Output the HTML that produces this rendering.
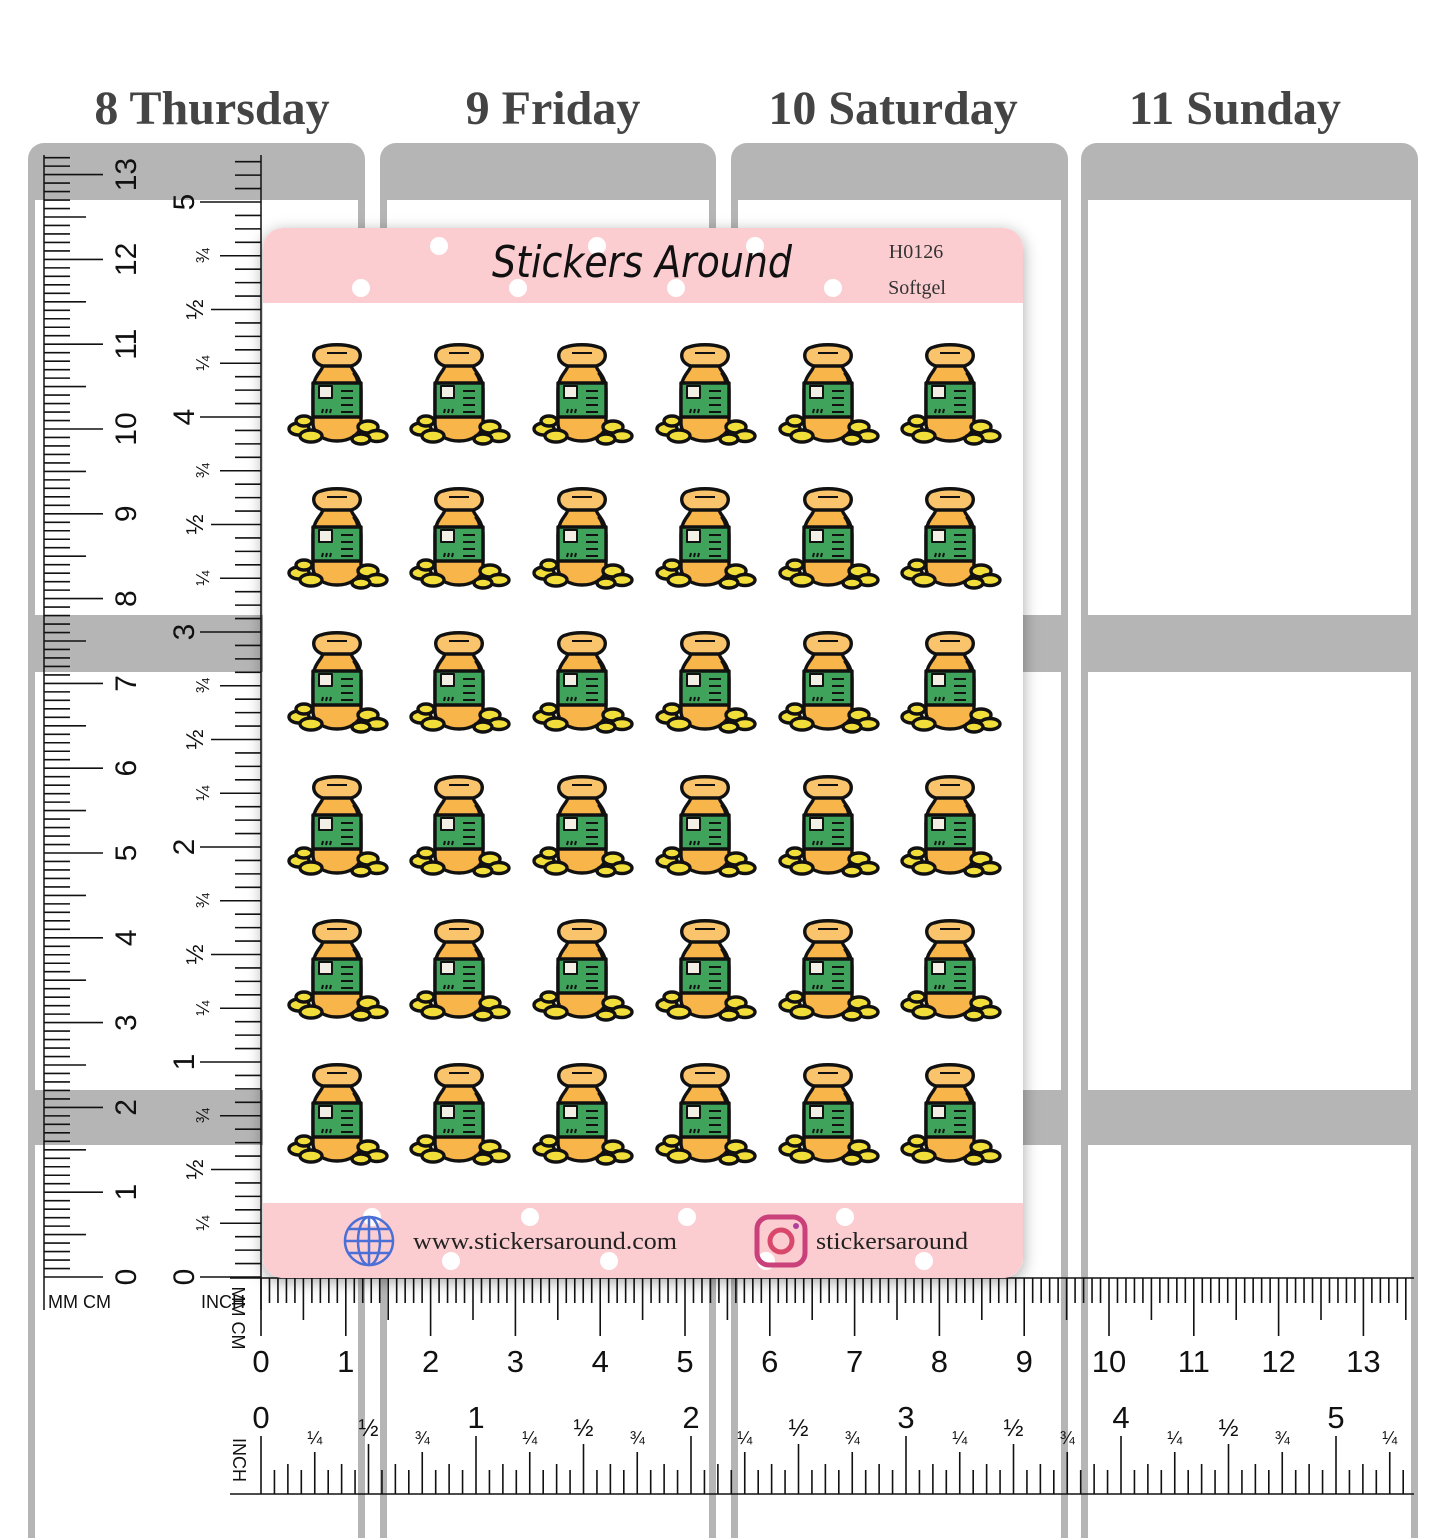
<!DOCTYPE html>
<html><head><meta charset="utf-8"><style>
html,body{margin:0;padding:0;background:#fff;}
body{width:1445px;height:1538px;position:relative;overflow:hidden;font-family:"Liberation Sans",sans-serif;}
svg{position:absolute;left:0;top:0;}
</style></head><body>
<svg id="s" width="1445" height="1538" viewBox="0 0 1445 1538" xmlns="http://www.w3.org/2000/svg">
<defs>
<filter id="sh" x="-10%" y="-10%" width="120%" height="120%"><feDropShadow dx="0" dy="4" stdDeviation="8" flood-color="#000" flood-opacity="0.35"/></filter>
<g id="ic" stroke="#111" stroke-width="3.4" stroke-linejoin="round">
<path d="M36 22 C36 28 26 32 26 48 L26 80 C26 104 74 104 74 80 L74 48 C74 32 64 28 64 22 Z" fill="#f7b54a"/>
<path d="M26 40 L74 40 L74 74 L26 74 Z" fill="#3fa35c"/>
<rect x="32" y="43" width="13" height="12" fill="#f2f0e4" stroke-width="2"/>
<path d="M54 48h12M54 55h12M54 62h12M54 69h12M36 66l-1 4M40 66l-1 4M44 66l-1 4" stroke-width="2"/>
<path d="M34 4 C24 6 24 20 36 23 L64 23 C76 20 76 6 66 4 C58 1 42 1 34 4Z" fill="#f9c46b"/>
<path d="M40 10h20" stroke-width="2"/>
<path d="M66 30 C69 34 70 38 70 40" fill="none" stroke-width="2"/>
<ellipse cx="12" cy="86" rx="10" ry="6" fill="#f2de3a"/>
<ellipse cx="24" cy="93" rx="11" ry="6" fill="#f2de3a"/>
<ellipse cx="17" cy="78" rx="8" ry="5" fill="#f2de3a"/>
<ellipse cx="81" cy="84" rx="10" ry="6" fill="#f2de3a"/>
<ellipse cx="90" cy="93" rx="10" ry="5.5" fill="#f2de3a"/>
<ellipse cx="74" cy="96" rx="9" ry="5" fill="#f2de3a"/>
</g>
</defs>
<g font-family="Liberation Serif, serif" font-weight="bold" font-size="48" fill="#444" text-anchor="middle">
<text x="212" y="124">8 Thursday</text>
<text x="553" y="124">9 Friday</text>
<text x="893" y="124">10 Saturday</text>
<text x="1235" y="124">11 Sunday</text>
</g>
<g id="cols"></g>
<g id="rulers"></g>
<g filter="url(#sh)">
<rect x="263" y="228" width="760" height="1050" rx="20" fill="#fff"/>
</g>
<path d="M283 228 H1003 A20 20 0 0 1 1023 248 V303 H263 V248 A20 20 0 0 1 283 228Z" fill="#fccdd0"/>
<path d="M263 1203 H1023 V1258 A20 20 0 0 1 1003 1278 H283 A20 20 0 0 1 263 1258Z" fill="#fccdd0"/>
<g fill="#fff">
<circle cx="439" cy="246" r="9"/><circle cx="361" cy="288" r="9"/><circle cx="518" cy="288" r="9"/><circle cx="597" cy="246" r="9"/><circle cx="676" cy="288" r="9"/><circle cx="755" cy="246" r="9"/><circle cx="833" cy="288" r="9"/>
<circle cx="372" cy="1217" r="9"/><circle cx="451" cy="1261" r="9"/><circle cx="530" cy="1217" r="9"/><circle cx="609" cy="1261" r="9"/><circle cx="687" cy="1217" r="9"/><circle cx="766" cy="1261" r="9"/><circle cx="845" cy="1217" r="9"/><circle cx="924" cy="1261" r="9"/>
</g>
<text x="642" y="277" text-anchor="middle" font-family="DejaVu Sans, sans-serif" font-style="italic" font-size="44" fill="#111" textLength="300" lengthAdjust="spacingAndGlyphs">Stickers Around</text>
<text x="916" y="258" text-anchor="middle" font-family="Liberation Serif, serif" font-size="20" fill="#333">H0126</text>
<text x="917" y="294" text-anchor="middle" font-family="Liberation Serif, serif" font-size="20" fill="#333">Softgel</text>
<g fill="none" stroke="#4a6fd6" stroke-width="2.5">
<circle cx="369" cy="1241" r="24"/><ellipse cx="369" cy="1241" rx="11" ry="24"/><path d="M345 1241h48M369 1217v48M349 1229h40M349 1253h40"/>
</g>
<text x="545" y="1249" text-anchor="middle" font-family="Liberation Serif, serif" font-size="24" fill="#222" textLength="264" lengthAdjust="spacingAndGlyphs">www.stickersaround.com</text>
<rect x="757" y="1217" width="48" height="48" rx="12" fill="none" stroke="#c9407a" stroke-width="5"/>
<circle cx="781" cy="1241" r="11" fill="none" stroke="#d9486a" stroke-width="5"/>
<circle cx="796" cy="1226" r="3" fill="#b0409a"/>
<text x="892" y="1249" text-anchor="middle" font-family="Liberation Serif, serif" font-size="24" fill="#222" textLength="152" lengthAdjust="spacingAndGlyphs">stickersaround</text>
<g id="icons"></g>
</svg>
<script>
var NS="http://www.w3.org/2000/svg";
function el(p,t,a,txt){var e=document.createElementNS(NS,t);for(var k in a)e.setAttribute(k,a[k]);if(txt!=null)e.textContent=txt;p.appendChild(e);return e;}
var cols=document.getElementById('cols');
var xs=[[28,365],[380,716],[731,1068],[1081,1418]];
xs.forEach(function(c){
 var x=c[0],w=c[1]-c[0];
 el(cols,'rect',{x:x,y:143,width:w,height:1420,rx:16,fill:'#b5b5b5'});
 el(cols,'rect',{x:x+7,y:200,width:w-14,height:415,fill:'#fff'});
 el(cols,'rect',{x:x+7,y:672,width:w-14,height:418,fill:'#fff'});
 el(cols,'rect',{x:x+7,y:1145,width:w-14,height:400,fill:'#fff'});
});
var r=document.getElementById('rulers');
el(r,'line',{x1:44,y1:155,x2:44,y2:1310,stroke:'#111','stroke-width':1.5});
el(r,'line',{x1:261,y1:155,x2:261,y2:1310,stroke:'#111','stroke-width':1.5});
var cm=84.8;
for(var i=0;i<=135;i++){var y=1277-i*cm/10;if(y<155)break;var l=(i%10==0)?59:(i%5==0?42:26);
 el(r,'line',{x1:44,y1:y,x2:44+l,y2:y,stroke:'#111','stroke-width':1.6});
 if(i%10==0){var v=i/10;el(r,'text',{x:0,y:0,transform:'translate(136 '+y+') rotate(-90)','text-anchor':'middle','font-size':30,fill:'#111'},v);}
}
var inch=215;
for(var i=0;i<=90;i++){var y=1277-i*inch/16;if(y<155)break;var l=(i%16==0)?61:(i%8==0?50:(i%4==0?41:26));
 el(r,'line',{x1:261-l,y1:y,x2:261,y2:y,stroke:'#111','stroke-width':1.6});
 if(i%16==0){el(r,'text',{x:0,y:0,transform:'translate(194 '+y+') rotate(-90)','text-anchor':'middle','font-size':30,fill:'#111'},i/16);}
 else if(i%4==0){var f=(i%16==8)?'½':((i%16==4)?'¼':'¾');el(r,'text',{x:0,y:0,transform:'translate('+((i%16==8)?203:209)+' '+y+') rotate(-90)','text-anchor':'middle','font-size':(i%16==8)?24:18,fill:'#111'},f);}
}
el(r,'text',{x:48,y:1308,'font-size':18,fill:'#111'},'MM CM');
el(r,'text',{x:201,y:1308,'font-size':18,fill:'#111'},'INCH');
el(r,'line',{x1:230,y1:1278,x2:1414,y2:1278,stroke:'#111','stroke-width':1.5});
el(r,'line',{x1:230,y1:1494,x2:1414,y2:1494,stroke:'#111','stroke-width':1.5});
el(r,'text',{x:0,y:0,transform:'translate(232 1318) rotate(90)','text-anchor':'middle','font-size':18,fill:'#111'},'MM CM');
el(r,'text',{x:0,y:0,transform:'translate(233 1460) rotate(90)','text-anchor':'middle','font-size':18,fill:'#111'},'INCH');
for(var i=0;i<=145;i++){var x=261+i*cm/10;if(x>1414)break;var l=(i%10==0)?58:(i%5==0?42:25);
 el(r,'line',{x1:x,y1:1278,x2:x,y2:1278+l,stroke:'#111','stroke-width':1.6});
 if(i%10==0)el(r,'text',{x:x,y:1372,'text-anchor':'middle','font-size':31,fill:'#111'},i/10);
}
for(var i=0;i<=90;i++){var x=261+i*inch/16;if(x>1414)break;var l=(i%16==0)?58:(i%8==0?50:(i%4==0?42:(i%2==0?30:24)));
 el(r,'line',{x1:x,y1:1494-l,x2:x,y2:1494,stroke:'#111','stroke-width':1.6});
 if(i%16==0)el(r,'text',{x:x,y:1428,'text-anchor':'middle','font-size':31,fill:'#111'},i/16);
 else if(i%4==0){var f=(i%16==8)?'½':((i%16==4)?'¼':'¾');el(r,'text',{x:x,y:(i%16==8)?1436:1444,'text-anchor':'middle','font-size':(i%16==8)?24:18,fill:'#111'},f);}
}
var ic=document.getElementById('icons');
var cx=[337,459,582,705,828,950],cy=[343,487,631,775,919,1063];
cy.forEach(function(y){cx.forEach(function(x){el(ic,'use',{href:'#ic',x:x-50,y:y});});});
</script>
</body></html>
